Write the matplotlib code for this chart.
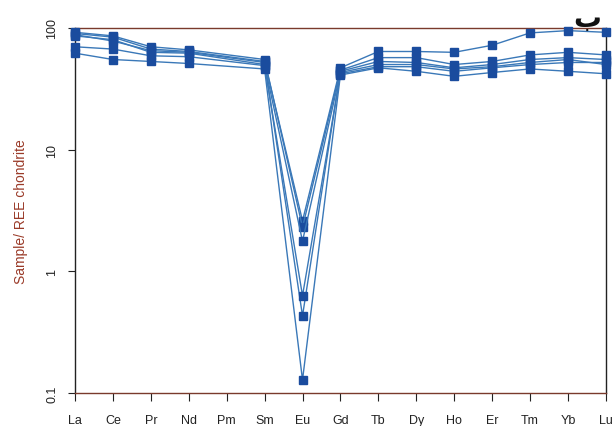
import numpy as np
import matplotlib
matplotlib.use('Agg')
import matplotlib.pyplot as plt

plt.rcParams['font.family'] = ['Liberation Sans', 'DejaVu Sans']

elements = ['La', 'Ce', 'Pr', 'Nd', 'Pm', 'Sm', 'Eu', 'Gd', 'Tb', 'Dy', 'Ho', 'Er', 'Tm', 'Yb', 'Lu']

# chondrite-normalised values, Pm has no data (nan)
nan = np.nan
sample_a = [90, 84, 67, 64, nan, 53, 2.6, 47, 64, 64, 63, 72, 91, 95, 92]
sample_b = [92, 86, 70, 66, nan, 55, 2.3, 45, 57, 57, 50, 53, 60, 63, 60]
sample_c = [88, 78, 65, 63, nan, 52, 0.43, 44, 53, 52, 47, 50, 55, 57, 55]
sample_d = [86, 80, 63, 62, nan, 50, 1.77, 43, 50, 50, 46, 48, 52, 55, 50]
sample_e = [70, 67, 59, 58, nan, 49, 0.63, 42, 48, 48, 44, 47, 50, 52, 52]
sample_f = [62, 55, 53, 51, nan, 46, 0.128, 41, 47, 44, 40, 43, 46, 44, 42]

samples = [sample_a, sample_b, sample_c, sample_d, sample_e, sample_f]

fig = plt.figure(figsize=(6.12, 4.27), dpi=100)
ax = fig.add_axes([0.1225, 0.0773, 0.8675, 0.855])

x = np.arange(len(elements))
for s in samples:
    s = np.array(s, dtype=float)
    ok = ~np.isnan(s)
    ax.plot(x[ok], s[ok], color='#3a78b8', lw=1.0, marker='s', ms=6,
            mfc='#1a4c9e', mec='#1a4c9e', zorder=3, clip_on=False)

ax.set_yscale('log')
ax.set_ylim(0.1, 100)
ax.set_xlim(0, 14)
ax.set_yticks([0.1, 1, 10, 100])
ax.set_yticklabels(['0.1', '1', '10', '100'], rotation=90, va='center')
ax.minorticks_off()
ax.set_xticks(x)
ax.set_xticklabels(elements)
ax.tick_params(axis='x', length=6, pad=9, labelsize=9, colors='#222222')
ax.tick_params(axis='y', length=5, pad=7, labelsize=9, colors='#222222')

for side in ['left', 'right']:
    ax.spines[side].set_color('#222222')
for side in ['top', 'bottom']:
    ax.spines[side].set_color('#7a3a2c')
for sp in ax.spines.values():
    sp.set_linewidth(1.0)

ax.set_ylabel('Sample/ REE chondrite', color='#9a3a28', fontsize=10, labelpad=13)

fig.text(0.96, 0.937, 'ب', fontsize=20, fontweight='bold', color='#111111',
         ha='center', va='baseline', family=['DejaVu Sans'], zorder=5)

fig.savefig('out.png', dpi=100)
